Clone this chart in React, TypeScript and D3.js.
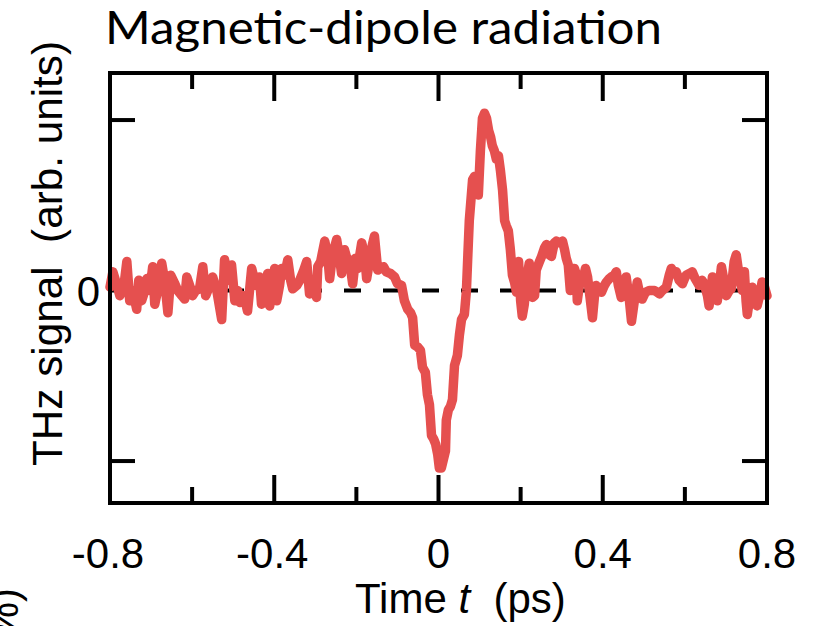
import React from "react";
import * as d3 from "d3";

const timePs = [
  -0.800, -0.793, -0.783, -0.776, -0.766, -0.759, -0.752, -0.745, -0.735, -0.730,
  -0.723, -0.715, -0.710, -0.703, -0.696, -0.691, -0.684, -0.674, -0.667, -0.659,
  -0.652, -0.642, -0.635, -0.625, -0.618, -0.613, -0.606, -0.599, -0.591, -0.582,
  -0.574, -0.567, -0.557, -0.550, -0.540, -0.528, -0.521, -0.513, -0.504, -0.496,
  -0.489, -0.484, -0.474, -0.465, -0.455, -0.445, -0.436, -0.431, -0.423, -0.416,
  -0.411, -0.404, -0.399, -0.394, -0.387, -0.382, -0.375, -0.367, -0.360, -0.355,
  -0.345, -0.338, -0.328, -0.321, -0.314, -0.304, -0.297, -0.294, -0.287, -0.277,
  -0.270, -0.265, -0.258, -0.248, -0.241, -0.236, -0.229, -0.221, -0.217, -0.209,
  -0.202, -0.197, -0.187, -0.180, -0.175, -0.168, -0.161, -0.156, -0.148, -0.141,
  -0.134, -0.127, -0.117, -0.107, -0.100, -0.090, -0.083, -0.075, -0.068, -0.063,
  -0.058, -0.051, -0.044, -0.039, -0.032, -0.027, -0.022, -0.017, -0.012, -0.007,
  -0.002, 0.002, 0.007, 0.012, 0.017, 0.019, 0.024, 0.029, 0.034, 0.039,
  0.046, 0.051, 0.056, 0.063, 0.068, 0.071, 0.075, 0.083, 0.088, 0.092,
  0.097, 0.102, 0.107, 0.112, 0.117, 0.122, 0.127, 0.131, 0.136, 0.141,
  0.146, 0.151, 0.156, 0.161, 0.165, 0.170, 0.175, 0.180, 0.185, 0.190,
  0.195, 0.200, 0.204, 0.209, 0.214, 0.221, 0.229, 0.234, 0.238, 0.246,
  0.251, 0.258, 0.263, 0.270, 0.275, 0.282, 0.287, 0.294, 0.302, 0.307,
  0.311, 0.316, 0.321, 0.326, 0.331, 0.336, 0.338, 0.343, 0.350, 0.358,
  0.363, 0.367, 0.375, 0.380, 0.384, 0.392, 0.397, 0.404, 0.409, 0.416,
  0.421, 0.428, 0.433, 0.438, 0.445, 0.453, 0.457, 0.465, 0.470, 0.477,
  0.484, 0.491, 0.496, 0.504, 0.513, 0.518, 0.526, 0.533, 0.538, 0.545,
  0.555, 0.562, 0.567, 0.574, 0.579, 0.586, 0.594, 0.599, 0.603, 0.611,
  0.618, 0.625, 0.635, 0.642, 0.647, 0.655, 0.659, 0.664, 0.667, 0.674,
  0.679, 0.684, 0.689, 0.696, 0.701, 0.708, 0.713, 0.720, 0.725, 0.732,
  0.740, 0.745, 0.749, 0.752, 0.757, 0.764, 0.771, 0.776, 0.781, 0.788,
  0.793, 0.800,
];

const signal = [
  0.02, 0.11, 0.03, -0.03, 0.03, 0.17, -0.06, 0.00, -0.11, 0.06,
  -0.06, 0.00, 0.07, 0.00, 0.14, -0.08, 0.00, 0.16, 0.06, -0.13,
  0.09, 0.04, 0.00, -0.03, -0.05, 0.08, 0.03, -0.03, 0.00, 0.01,
  0.14, -0.03, 0.03, 0.08, 0.00, -0.17, 0.18, 0.06, 0.15, -0.06,
  0.00, -0.07, -0.03, -0.12, 0.13, 0.03, 0.08, -0.08, 0.00, 0.10,
  -0.09, 0.03, 0.13, -0.06, 0.03, 0.13, 0.09, 0.18, 0.06, 0.01,
  0.03, 0.06, 0.12, 0.17, -0.02, 0.03, -0.04, 0.14, 0.17, 0.29,
  0.21, 0.07, 0.21, 0.30, 0.19, 0.10, 0.24, 0.17, 0.18, 0.04,
  0.19, 0.13, 0.28, 0.21, 0.07, 0.17, 0.27, 0.32, 0.12, 0.13,
  0.14, 0.11, 0.10, 0.08, 0.04, 0.03, -0.06, -0.11, -0.13, -0.16,
  -0.32, -0.33, -0.35, -0.45, -0.48, -0.61, -0.67, -0.85, -0.87, -0.90,
  -0.96, -1.04, -1.04, -0.99, -0.94, -0.76, -0.70, -0.68, -0.64, -0.44,
  -0.38, -0.26, -0.17, -0.14, 0.00, 0.18, 0.41, 0.65, 0.67, 0.66,
  0.56, 0.82, 1.01, 1.04, 1.01, 0.94, 0.90, 0.85, 0.82, 0.77,
  0.79, 0.70, 0.59, 0.41, 0.38, 0.35, 0.24, 0.09, 0.05, -0.01,
  0.17, -0.06, -0.15, -0.08, 0.06, 0.16, -0.04, -0.03, 0.12, 0.17,
  0.20, 0.25, 0.27, 0.21, 0.20, 0.28, 0.29, 0.28, 0.29, 0.24,
  0.19, 0.15, 0.00, 0.11, 0.13, 0.09, -0.06, 0.03, 0.05, 0.13,
  0.08, 0.00, -0.16, -0.03, 0.03, 0.00, -0.01, 0.03, 0.05, 0.07,
  0.08, 0.09, 0.11, 0.03, -0.04, 0.04, 0.08, -0.06, -0.18, -0.06,
  0.05, -0.03, -0.05, -0.01, 0.00, 0.00, 0.00, -0.01, -0.02, 0.00,
  0.02, 0.09, 0.13, 0.10, 0.11, 0.06, 0.04, 0.07, 0.09, 0.10,
  0.11, 0.07, 0.03, 0.06, 0.04, -0.03, -0.09, 0.00, 0.08, 0.00,
  -0.06, 0.03, 0.14, 0.05, -0.03, 0.00, 0.01, 0.17, 0.21, 0.09,
  0.00, 0.11, -0.06, -0.14, -0.06, 0.02, -0.03, -0.09, -0.04, 0.05,
  0.03, -0.03,
];

const xTickValues = [-0.6, -0.4, -0.2, 0, 0.2, 0.4, 0.6];
const xMajorTicks = [-0.4, 0, 0.4];
const xTickLabels = [-0.8, -0.4, 0, 0.4, 0.8];
const yTickValues = [-1, 1];

const titleText = "Magnetic-dipole radiation";
const yLabelText = "THz signal  (arb. units)";

const W = 826;
const H = 626;
const left = 110;
const right = 767;
const top = 73;
const bottom = 503;
const red = "#E5504F";
const font = "'Liberation Sans', Arial, Helvetica, sans-serif";

export default function App() {
  const x = d3.scaleLinear().domain([-0.8, 0.8]).range([left, right]);
  const y = d3.scaleLinear().domain([-1.246, 1.276]).range([bottom, top]);

  const pts: [number, number][] = timePs.map((t, i) => [t, signal[i]]);
  const line = d3
    .line<[number, number]>()
    .x((d) => x(d[0]))
    .y((d) => y(d[1]))
    .curve(d3.curveLinear);

  const fmt = (v: number) => (v === 0 ? "0" : String(v));

  return (
    <svg
      width={W}
      height={H}
      style={{ position: "absolute", left: 0, top: 0, background: "#fff" }}
    >
      <rect x={0} y={0} width={W} height={H} fill="#fff" />
      {/* title */}
      <text
        x={105}
        y={44}
        fontFamily="Lato, 'Open Sans', sans-serif"
        fontSize={46}
        fontWeight={400}
        textLength={557}
        lengthAdjust="spacingAndGlyphs"
        fill="#000"
      >
        {titleText}
      </text>

      {/* zero dashed line */}
      <line
        x1={left}
        x2={right}
        y1={y(0)}
        y2={y(0)}
        stroke="#000"
        strokeWidth={4}
        strokeDasharray="17 22"
      />

      {/* data */}
      <path
        d={line(pts) || ""}
        fill="none"
        stroke={red}
        strokeWidth={9.5}
        strokeLinejoin="round"
        strokeLinecap="round"
      />

      {/* frame */}
      <rect
        x={left}
        y={top}
        width={right - left}
        height={bottom - top}
        fill="none"
        stroke="#000"
        strokeWidth={4}
      />

      {/* x ticks top & bottom */}
      {xTickValues.map((v) => {
        const len = xMajorTicks.includes(v) ? 28 : 16;
        return (
          <g key={"xt" + v}>
            <line x1={x(v)} x2={x(v)} y1={top} y2={top + len} stroke="#000" strokeWidth={4} />
            <line x1={x(v)} x2={x(v)} y1={bottom} y2={bottom - len} stroke="#000" strokeWidth={4} />
          </g>
        );
      })}

      {/* y ticks left & right */}
      {yTickValues.map((v) => (
        <g key={"yt" + v}>
          <line x1={left} x2={left + 25} y1={y(v)} y2={y(v)} stroke="#000" strokeWidth={4} />
          <line x1={right} x2={right - 25} y1={y(v)} y2={y(v)} stroke="#000" strokeWidth={4} />
        </g>
      ))}

      {/* x tick labels */}
      {xTickLabels.map((v) => (
        <text
          key={"xl" + v}
          x={x(v) + (v < 0 ? -2 : 0)}
          y={568}
          textAnchor="middle"
          fontFamily={font}
          fontSize={42}
          fill="#000"
        >
          {fmt(v)}
        </text>
      ))}

      {/* y tick label */}
      <text
        x={100}
        y={y(0) + 15}
        textAnchor="end"
        fontFamily={font}
        fontSize={42}
        fill="#000"
      >
        0
      </text>

      {/* x axis label */}
      <text x={355} y={613} fontFamily={font} fontSize={42} fill="#000">
        Time <tspan fontStyle="italic">t</tspan>
        {"\u00a0 (ps)"}
      </text>

      {/* y axis label */}
      <text
        transform="translate(62,466) rotate(-90)"
        fontFamily={font}
        fontSize={42}
        textLength={425}
        lengthAdjust="spacingAndGlyphs"
        fill="#000"
        style={{ whiteSpace: "pre" }}
      >
        {yLabelText}
      </text>

      {/* clipped label from neighbouring panel */}
      <text
        transform="translate(18,588) rotate(-90)"
        textAnchor="end"
        fontFamily={font}
        fontSize={42}
        fill="#000"
      >
        (%)
      </text>
    </svg>
  );
}
